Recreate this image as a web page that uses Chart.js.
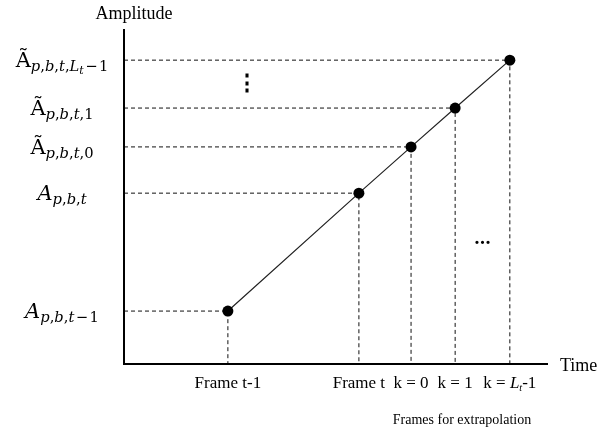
<!DOCTYPE html>
<html>
<head>
<meta charset="utf-8">
<script src="https://cdn.jsdelivr.net/npm/chart.js@4"></script>
<style>
  html, body { margin: 0; padding: 0; background: #fff; }
  #wrap { width: 615px; height: 434px; }
</style>
</head>
<body>
<div id="wrap"><canvas id="extrapChart" width="615" height="434"></canvas></div>
<script>
// time position and amplitude of each frame (0..100 units)
const pointX = [24.5, 55.4, 67.7, 78.1, 91.0];
const pointY = [15.8, 51.0, 64.8, 76.4, 90.7];

// '_' starts a subscript, {} groups it
const xTickLabels = ['Frame t-1', 'Frame t', 'k = 0', 'k = 1', 'k = L_t-1'];
const yTickLabels = ['A_{p,b,t−1}', 'A_{p,b,t}', 'Ã_{p,b,t,0}', 'Ã_{p,b,t,1}', 'Ã_{p,b,t,L_t−1}'];

const yTitle = 'Amplitude';
const xTitle = 'Time';
const groupNote = 'Frames for extrapolation';

const points = pointX.map((x, i) => ({ x: x, y: pointY[i] }));

// dashed guides: y axis -> point -> x axis
const guides = points.map((p) => ({
  data: [{ x: 0, y: p.y }, { x: p.x, y: p.y }, { x: p.x, y: 0 }],
  showLine: true,
  borderColor: '#111',
  borderWidth: 1,
  borderDash: [4, 3],
  pointRadius: 0,
  order: 1
}));

function parseRich(s) {
  const out = [];
  let i = 0;
  function walk(level, inGroup) {
    while (i < s.length) {
      const c = s[i];
      if (c === '}' && inGroup) { i++; return; }
      if (c === '_') {
        i++;
        if (out.length) out[out.length - 1].base = true;
        if (s[i] === '{') { i++; walk(level + 1, true); }
        else { out.push({ ch: s[i], level: level + 1 }); i++; }
        continue;
      }
      out.push({ ch: c, level: level });
      i++;
    }
  }
  walk(0, false);
  return out;
}

function drawRich(ctx, str, cx, baseline, opt) {
  const glyphs = parseRich(str);
  const sizes = [opt.size, opt.size * opt.subScale, opt.size * opt.subScale * 0.75];
  const shifts = [0, opt.size * opt.subShift, opt.size * opt.subShift * 1.7];
  let w = 0;
  glyphs.forEach((g) => {
    g.italic = /[A-Za-z]/.test(g.ch) && (opt.allItalic || g.level > 0 || g.base);
    g.font = (g.italic ? 'italic ' : '') + sizes[g.level].toFixed(1) + 'px ' + opt.family;
    ctx.font = g.font;
    g.pad = g.ch === '−' ? sizes[g.level] * 0.1 : 0;
    g.w = ctx.measureText(g.ch).width + 2 * g.pad;
    w += g.w;
  });
  let x = cx - w / 2;
  ctx.textAlign = 'left';
  ctx.textBaseline = 'alphabetic';
  glyphs.forEach((g) => {
    ctx.font = g.font;
    ctx.fillText(g.ch, x + g.pad, baseline + shifts[g.level]);
    x += g.w;
  });
}

const figurePlugin = {
  id: 'figure',
  afterDraw(chart) {
    const ctx = chart.ctx;
    const area = chart.chartArea;
    const xs = chart.scales.x;
    const ys = chart.scales.y;
    ctx.save();

    // axes
    ctx.strokeStyle = '#000';
    ctx.lineWidth = 2;
    ctx.beginPath();
    ctx.moveTo(area.left, area.top);
    ctx.lineTo(area.left, area.bottom);
    ctx.lineTo(area.right, area.bottom);
    ctx.stroke();

    ctx.fillStyle = '#000';

    // amplitude labels
    yTickLabels.forEach((lab, i) => {
      drawRich(ctx, lab, 62, ys.getPixelForValue(pointY[i]) + 7,
        { size: 21, subScale: 0.7, subShift: 0.2, family: '"DejaVu Serif", serif', allItalic: true });
    });

    // frame labels
    xTickLabels.forEach((lab, i) => {
      drawRich(ctx, lab, xs.getPixelForValue(pointX[i]), area.bottom + 24,
        { size: 17, subScale: 0.6, subShift: 0.2, family: '"Liberation Serif", serif', allItalic: false });
    });

    ctx.font = '18px "Liberation Serif", serif';
    ctx.textAlign = 'center';
    ctx.textBaseline = 'alphabetic';
    ctx.fillText(yTitle, area.left + 10, 19);
    ctx.textAlign = 'left';
    ctx.fillText(xTitle, area.right + 12, area.bottom + 7);
    ctx.font = '14px "Liberation Serif", serif';
    ctx.textAlign = 'center';
    ctx.fillText(groupNote, 462, area.bottom + 60);

    // ellipses between the last two levels / frames
    const n = pointX.length;
    ctx.font = 'bold 22px "DejaVu Serif", serif';
    ctx.textBaseline = 'middle';
    ctx.fillText('⋮', xs.getPixelForValue(29),
      ys.getPixelForValue((pointY[n - 2] + pointY[n - 1]) / 2));
    ctx.font = 'bold 17px "DejaVu Serif", serif';
    ctx.fillText('…', xs.getPixelForValue((pointX[n - 2] + pointX[n - 1]) / 2),
      ys.getPixelForValue(37));

    ctx.restore();
  }
};

const config = {
  type: 'scatter',
  data: {
    datasets: [
      {
        data: points,
        showLine: true,
        borderColor: '#222',
        borderWidth: 1.2,
        pointRadius: 5.5,
        pointBackgroundColor: '#000',
        pointBorderColor: '#000',
        pointBorderWidth: 0,
        order: 0
      },
      ...guides
    ]
  },
  options: {
    responsive: false,
    animation: false,
    layout: { padding: { left: 124, right: 67, top: 29, bottom: 70 } },
    scales: {
      x: { type: 'linear', min: 0, max: 100, display: false },
      y: { type: 'linear', min: 0, max: 100, display: false }
    },
    plugins: {
      legend: { display: false },
      tooltip: { enabled: false }
    }
  },
  plugins: [figurePlugin]
};

const extrapChart = new Chart(document.getElementById('extrapChart'), config);
</script>
</body>
</html>
